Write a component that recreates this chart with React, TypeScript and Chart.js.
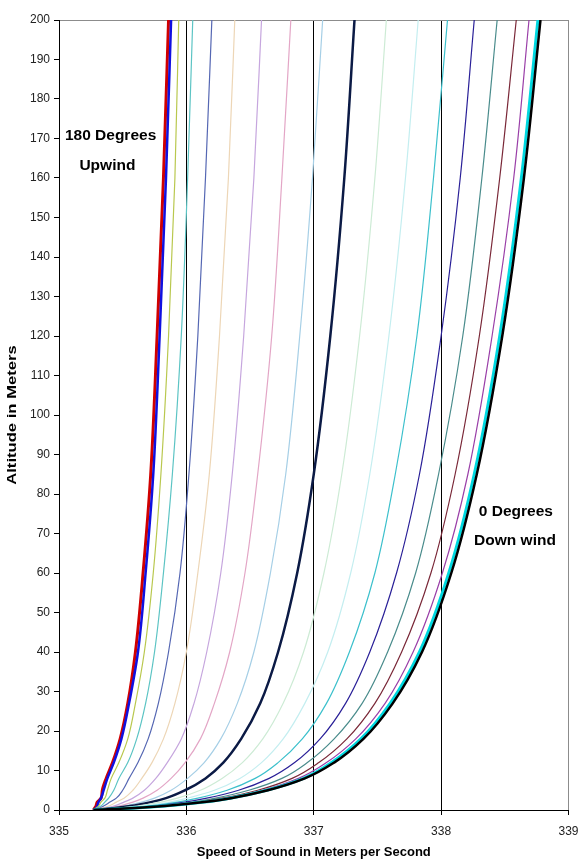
import React, { useEffect, useRef } from "react";
import { Chart, registerables } from "chart.js";

Chart.register(...registerables);

// Altitude (m) sample points shared by all curves
const ALTITUDES = [0, 0.5, 1, 2, 3, 5, 8, 12, 18, 27, 40, 60, 85, 120, 160, 200];

// Speed of sound (m/s) per wind direction
const SPEED_0 = [335.27, 335.6, 335.83, 336.14, 336.35, 336.64, 336.93, 337.16, 337.39, 337.62, 337.85, 338.08, 338.28, 338.48, 338.65, 338.78];
const SPEED_10 = [335.27, 335.6, 335.83, 336.14, 336.34, 336.63, 336.92, 337.14, 337.37, 337.6, 337.83, 338.06, 338.26, 338.46, 338.63, 338.76];
const SPEED_20 = [335.27, 335.59, 335.82, 336.12, 336.32, 336.6, 336.88, 337.1, 337.33, 337.56, 337.78, 338.01, 338.21, 338.4, 338.57, 338.69];
const SPEED_30 = [335.27, 335.58, 335.8, 336.09, 336.28, 336.56, 336.83, 337.04, 337.26, 337.48, 337.69, 337.92, 338.11, 338.3, 338.46, 338.59];
const SPEED_40 = [335.27, 335.57, 335.77, 336.05, 336.23, 336.49, 336.75, 336.95, 337.16, 337.38, 337.58, 337.8, 337.98, 338.17, 338.32, 338.44];
const SPEED_50 = [335.27, 335.55, 335.74, 335.99, 336.16, 336.41, 336.65, 336.85, 337.05, 337.25, 337.44, 337.65, 337.83, 338.0, 338.15, 338.26];
const SPEED_60 = [335.27, 335.52, 335.7, 335.93, 336.09, 336.32, 336.54, 336.72, 336.91, 337.1, 337.28, 337.48, 337.64, 337.81, 337.94, 338.05];
const SPEED_70 = [335.27, 335.5, 335.65, 335.87, 336.01, 336.22, 336.42, 336.59, 336.76, 336.93, 337.11, 337.29, 337.44, 337.59, 337.72, 337.82];
const SPEED_80 = [335.27, 335.47, 335.61, 335.8, 335.93, 336.11, 336.28, 336.44, 336.6, 336.76, 336.92, 337.08, 337.22, 337.36, 337.48, 337.57];
const SPEED_90 = [335.27, 335.44, 335.56, 335.72, 335.84, 335.99, 336.15, 336.29, 336.43, 336.58, 336.72, 336.87, 337.0, 337.13, 337.24, 337.32];
const SPEED_100 = [335.27, 335.42, 335.51, 335.65, 335.75, 335.88, 336.01, 336.14, 336.27, 336.4, 336.53, 336.66, 336.78, 336.89, 336.99, 337.07];
const SPEED_110 = [335.27, 335.39, 335.47, 335.58, 335.66, 335.77, 335.88, 335.99, 336.11, 336.22, 336.34, 336.46, 336.56, 336.67, 336.75, 336.82];
const SPEED_120 = [335.27, 335.36, 335.43, 335.51, 335.58, 335.67, 335.76, 335.85, 335.96, 336.06, 336.16, 336.27, 336.36, 336.45, 336.53, 336.59];
const SPEED_130 = [335.27, 335.34, 335.39, 335.45, 335.51, 335.58, 335.65, 335.73, 335.82, 335.91, 336.0, 336.09, 336.18, 336.26, 336.33, 336.38];
const SPEED_140 = [335.27, 335.32, 335.35, 335.4, 335.45, 335.5, 335.55, 335.62, 335.7, 335.78, 335.86, 335.95, 336.02, 336.09, 336.15, 336.2];
const SPEED_150 = [335.27, 335.3, 335.33, 335.36, 335.39, 335.43, 335.47, 335.54, 335.61, 335.68, 335.75, 335.82, 335.89, 335.96, 336.01, 336.05];
const SPEED_160 = [335.27, 335.29, 335.31, 335.33, 335.36, 335.38, 335.41, 335.47, 335.54, 335.6, 335.67, 335.74, 335.8, 335.86, 335.91, 335.94];
const SPEED_170 = [335.27, 335.29, 335.3, 335.31, 335.33, 335.35, 335.38, 335.43, 335.49, 335.55, 335.62, 335.68, 335.74, 335.79, 335.84, 335.88];
const SPEED_180 = [335.27, 335.28, 335.29, 335.3, 335.33, 335.34, 335.37, 335.42, 335.48, 335.54, 335.6, 335.66, 335.72, 335.77, 335.82, 335.86];

const DIRECTIONS = ["0", "10", "20", "30", "40", "50", "60", "70", "80", "90", "100", "110", "120", "130", "140", "150", "160", "170", "180"];
const SERIES = [SPEED_0, SPEED_10, SPEED_20, SPEED_30, SPEED_40, SPEED_50, SPEED_60, SPEED_70, SPEED_80, SPEED_90, SPEED_100, SPEED_110, SPEED_120, SPEED_130, SPEED_140, SPEED_150, SPEED_160, SPEED_170, SPEED_180];
const COLORS = ["#000000", "#00D8E0", "#9A3FA8", "#7A2838", "#4A8C8C", "#2A2098", "#3CC0CC", "#C4EEF0", "#CDEBD5", "#0B1A45", "#A6CFE6", "#E3A6C6", "#C6A6DE", "#EDD6B6", "#5567B3", "#5CC4C4", "#B9C84E", "#1010E0", "#D00000"];
const WIDTHS = [2.5, 3, 1.2, 1.2, 1.2, 1.2, 1.2, 1.2, 1.2, 2.5, 1.2, 1.2, 1.2, 1.2, 1.2, 1.2, 1.2, 2.5, 3];

const X_MIN = 335;
const X_MAX = 339;
const Y_MIN = 0;
const Y_MAX = 200;

const X_TITLE = "Speed of Sound in Meters per Second";
const Y_TITLE = "Altitude in Meters";

const NOTE_TEXTS = ["180 Degrees", "Upwind", "0 Degrees", "Down wind"];
const NOTE_X = [335.405, 335.38, 338.587, 338.58];
const NOTE_Y = [170.6, 163.1, 75.5, 68.2];

const FONT = '"Liberation Sans", Arial, Helvetica, sans-serif';

const notesPlugin = {
  id: "notes",
  afterDatasetsDraw(chart: any) {
    const { ctx, scales, chartArea } = chart;
    ctx.save();
    ctx.font = `bold 15.5px ${FONT}`;
    ctx.fillStyle = "#000";
    ctx.textAlign = "center";
    ctx.textBaseline = "middle";
    NOTE_TEXTS.forEach((t, i) => {
      ctx.fillText(t, scales.x.getPixelForValue(NOTE_X[i]), scales.y.getPixelForValue(NOTE_Y[i]));
    });
    ctx.restore();

    // y-axis title (stretched along its length like the original)
    ctx.save();
    ctx.font = `bold 13px ${FONT}`;
    ctx.fillStyle = "#000";
    ctx.textAlign = "center";
    ctx.textBaseline = "middle";
    ctx.translate(12, (chartArea.top + chartArea.bottom) / 2);
    ctx.rotate(-Math.PI / 2);
    ctx.scale(1.28, 1);
    ctx.fillText(Y_TITLE, 0, 0);
    ctx.restore();
  },
};

export default function App() {
  const ref = useRef<HTMLCanvasElement | null>(null);

  useEffect(() => {
    if (!ref.current) return;
    const datasets = SERIES.map((s, i) => ({
      label: DIRECTIONS[i] + " degrees",
      data: s.map((v, k) => ({ x: v, y: ALTITUDES[k] })),
      borderColor: COLORS[i],
      backgroundColor: COLORS[i],
      borderWidth: WIDTHS[i],
      pointRadius: 0,
      fill: false,
      cubicInterpolationMode: "monotone" as const,
    }));
    const chart = new Chart(ref.current, {
      type: "line",
      data: { datasets },
      plugins: [notesPlugin],
      options: {
        animation: false,
        responsive: false,
        maintainAspectRatio: false,
        indexAxis: "y",
        layout: { padding: { left: 0, right: 10.5, top: 20, bottom: 0 } },
        plugins: { legend: { display: false }, tooltip: { enabled: false } },
        elements: { point: { radius: 0 } },
        scales: {
          x: {
            type: "linear",
            position: "bottom",
            min: X_MIN,
            max: X_MAX,
            afterFit: (s: any) => {
              s.height = 49;
              s.paddingLeft = 0;
              s.paddingRight = 0;
            },
            ticks: {
              stepSize: 1,
              padding: 9,
              color: "#222",
              font: { family: FONT, size: 12 },
              callback: (v: any) => String(v),
            },
            grid: {
              color: (c: any) => (c.tick && c.tick.value === X_MAX ? "#8c8c8c" : "#000"),
              tickColor: "#000",
              tickLength: 5,
              lineWidth: 1,
            },
            border: { color: "#000", width: 1 },
            title: {
              display: true,
              text: X_TITLE,
              color: "#000",
              font: { family: FONT, size: 13, weight: "bold", lineHeight: 1 },
              padding: 0,
            },
          },
          y: {
            type: "linear",
            position: "left",
            min: Y_MIN,
            max: Y_MAX,
            afterFit: (s: any) => {
              s.width = 59;
              s.paddingTop = 0;
              s.paddingBottom = 0;
            },
            ticks: {
              stepSize: 10,
              padding: 4,
              color: "#222",
              font: { family: FONT, size: 12 },
            },
            grid: {
              color: (c: any) => (c.tick && c.tick.value === Y_MAX ? "#8c8c8c" : "rgba(0,0,0,0)"),
              tickColor: "#000",
              tickLength: 5,
              lineWidth: 1,
            },
            border: { color: "#000", width: 1 },
            title: { display: false },
          },
        },
      } as any,
    });
    return () => chart.destroy();
  }, []);

  return (
    <div style={{ position: "fixed", left: 0, top: 0, width: 579, height: 859, background: "#fff" }}>
      <canvas ref={ref} width={579} height={859} style={{ display: "block", width: 579, height: 859 }} />
    </div>
  );
}
